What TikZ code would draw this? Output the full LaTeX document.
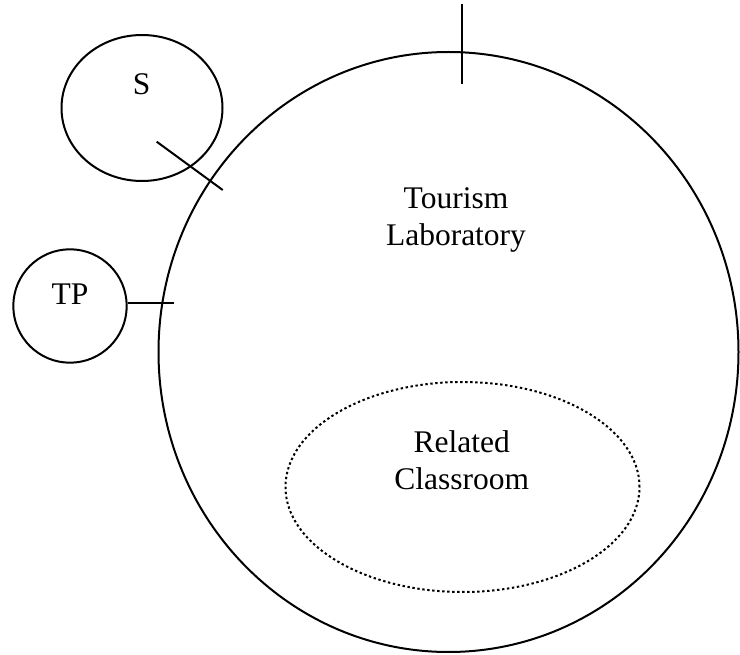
\documentclass[tikz,border=0pt]{standalone}
\usepackage{fontspec}
\setmainfont{Liberation Serif}
\usetikzlibrary{shapes.geometric}
\begin{document}
\begin{tikzpicture}[x=1pt,y=-1pt,
  ring/.style={ellipse,draw,line width=2pt,inner sep=0pt},
  label/.style={font=\fontsize{31.5}{37}\selectfont,inner sep=0pt,align=center},
  tick/.style={line width=2pt}]
  \useasboundingbox (0,0) rectangle (740,655);
  % tourism laboratory and the classroom inside it
  \node[ring,minimum width=580pt,minimum height=600pt] (lab) at (448.5,352) {};
  \node[ring,dash pattern=on 2.4pt off 2.6pt,minimum width=354pt,minimum height=210pt] (room) at (462.5,487) {};
  % outside partners
  \node[ring,minimum width=161pt,minimum height=146pt] (s) at (142,108) {};
  \node[ring,minimum width=113.4pt,minimum height=113.4pt] (tp) at (70,306) {};
  % labels
  \node[label] (labtext) at (456,220) {Tourism\\Laboratory};
  \node[label] (roomtext) at (461.8,460) {Related\\Classroom};
  \node[label,anchor=base] (stext) at (141.7,95) {S};
  \node[label,anchor=base] (tptext) at (70,304.3) {TP};
  % links crossing the boundary
  \coordinate (topA) at (461.7,4);
  \coordinate (topB) at (461.7,84);
  \coordinate (sA) at (156.7,141.7);
  \coordinate (sB) at (222.7,190);
  \coordinate (tpB) at (174,303.3);
  \draw[tick] (topA) -- (topB);
  \draw[tick] (sA) -- (sB);
  \draw[tick] (tp.east |- tpB) -- (tpB);
\end{tikzpicture}
\end{document}
